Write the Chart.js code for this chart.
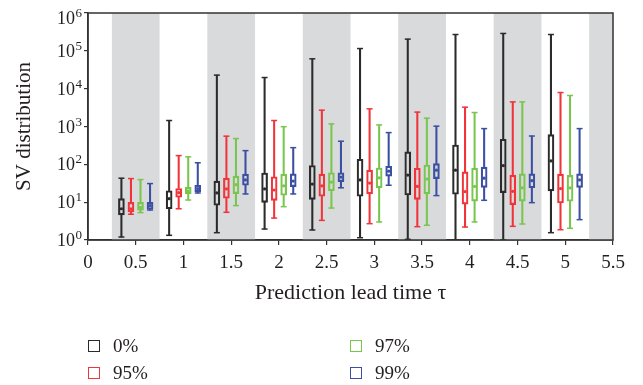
<!DOCTYPE html>
<html>
<head>
<meta charset="utf-8">
<script src="https://cdn.jsdelivr.net/npm/chart.js@4.4.1/dist/chart.umd.min.js"></script>
<style>
  body { margin: 0; background: #fff; }
  #wrap { position: relative; width: 643px; height: 385px; }
  .leg { position: absolute; display: flex; align-items: center; height: 14px;
         font: 19px "Liberation Serif", serif; color: #231f20; }
  .leg span.sq { width: 12px; height: 12px; box-sizing: border-box; border: 1.6px solid; margin-right: 13px; }
</style>
</head>
<body>
<div id="wrap">
  <canvas id="chart" width="643" height="385"></canvas>
</div>
<script>
// prediction lead time (group centres) and series names
const tau = [0.5, 1, 1.5, 2, 2.5, 3, 3.5, 4, 4.5, 5];
const seriesNames = ['0%', '95%', '97%', '99%'];
const seriesColors = ['#2b2b2b', '#f0343a', '#79c64e', '#3b4fa3'];
const offsets = [-0.15, -0.05, 0.05, 0.15];
const bands = [[0.25, 0.75], [1.25, 1.75], [2.25, 2.75], [3.25, 3.75], [4.25, 4.75], [5.25, 5.5]];
const yTicks = [1, 10, 100, 1000, 10000, 100000, 1000000];

// each box: [min, q1, median, q3, max]
const sv0 = [
  [1.2, 4.6, 6.7, 12.4, 43],
  [1.33, 6.7, 12.4, 20, 1440],
  [1.56, 8.3, 17.5, 36, 22800],
  [1.95, 9.9, 22.4, 59, 19700],
  [1.84, 11.9, 30, 93, 61500],
  [1.15, 14.3, 38.6, 136, 115000],
  [1.04, 15.5, 52, 213, 204000],
  [1.0, 16.2, 70, 325, 270000],
  [1.0, 17.8, 93, 460, 288000],
  [1.56, 19.8, 123, 610, 270000]
];
const sv95 = [
  [4.8, 5.5, 6.7, 9.9, 42],
  [6.7, 13.5, 17.8, 23, 170],
  [5.4, 12.7, 22.4, 43, 555],
  [3.8, 11.2, 21, 47, 1440],
  [3.3, 14.3, 27, 55, 2700],
  [2.7, 16.5, 32, 70, 2930],
  [2.25, 11.9, 26, 79, 2400],
  [2.2, 8.9, 19, 63, 3240],
  [2.3, 8.6, 19.4, 52, 4470],
  [1.87, 9.5, 22.8, 55, 7900]
];
const sv97 = [
  [5.3, 6.1, 7.3, 9.9, 39.5],
  [11.4, 16.5, 20, 25, 158],
  [8.1, 16.8, 29, 49, 480],
  [7.6, 15.2, 27, 55, 990],
  [7.0, 20, 34, 60, 1170],
  [3.0, 24, 44, 80, 1100],
  [2.45, 16.5, 41, 96, 1660],
  [3.0, 10.7, 26, 79, 2340],
  [2.65, 10.7, 24, 56, 4470],
  [2.04, 10.6, 23.8, 51, 6600]
];
const sv99 = [
  [6.2, 6.5, 8.1, 9.9, 31],
  [17.5, 19, 23, 28, 110],
  [16.5, 28, 38.6, 55, 230],
  [16.5, 25.7, 36, 56, 276],
  [24, 35, 46, 60, 408],
  [28, 49, 66, 89, 690],
  [14.9, 42, 70, 104, 1020],
  [11.2, 24.7, 43, 84, 880],
  [9.7, 24, 37, 56, 560],
  [3.45, 24.7, 38.6, 56, 880]
];
const allSeries = [sv0, sv95, sv97, sv99];

const FONT = '"Liberation Serif", serif';
const TEXT = '#231f20';

const datasets = [];
allSeries.forEach((s, k) => {
  const col = seriesColors[k];
  const xs = tau.map(t => t + offsets[k]);
  // lower and upper whiskers
  datasets.push({
    type: 'bar', grouped: false, barThickness: 1.4, borderWidth: 0, backgroundColor: col,
    data: s.map((b, i) => ({x: xs[i], y: [b[0], b[1]]}))
  });
  datasets.push({
    type: 'bar', grouped: false, barThickness: 1.4, borderWidth: 0, backgroundColor: col,
    data: s.map((b, i) => ({x: xs[i], y: [b[3], b[4]]}))
  });
  // box
  datasets.push({
    type: 'bar', grouped: false, barThickness: 6, borderWidth: 1.5, borderSkipped: false,
    borderColor: col, backgroundColor: 'rgba(0,0,0,0)',
    data: s.map((b, i) => ({x: xs[i], y: [b[1], b[3]]}))
  });
  // whisker caps
  datasets.push({
    type: 'line', showLine: false, pointStyle: 'line', pointRadius: 3, borderWidth: 1.5,
    borderColor: col,
    data: s.flatMap((b, i) => [{x: xs[i], y: b[0]}, {x: xs[i], y: b[4]}])
  });
  // median dot
  datasets.push({
    type: 'line', showLine: false, pointStyle: 'circle', pointRadius: 1.6, borderWidth: 0,
    backgroundColor: col,
    data: s.map((b, i) => ({x: xs[i], y: b[2]}))
  });
});

const bandPlugin = {
  id: 'bands',
  beforeDatasetsDraw(chart) {
    const {ctx, chartArea: a, scales: {x}} = chart;
    ctx.save();
    ctx.fillStyle = '#d9dadc';
    bands.forEach(b => {
      const x0 = x.getPixelForValue(b[0]), x1 = x.getPixelForValue(b[1]);
      ctx.fillRect(x0, a.top, x1 - x0, a.bottom - a.top);
    });
    ctx.restore();
  },
  afterDraw(chart) {
    const {ctx, chartArea: a, scales: {y}} = chart;
    ctx.save();
    ctx.strokeStyle = '#333';
    ctx.lineWidth = 1.5;
    ctx.strokeRect(a.left, a.top, a.right - a.left, a.bottom - a.top);
    // y tick labels as 10 with a raised exponent
    ctx.fillStyle = TEXT;
    ctx.textBaseline = 'alphabetic';
    const right = a.left - 6;
    yTicks.forEach((v, i) => {
      const e = String(Math.round(Math.log10(v)));
      let py = y.getPixelForValue(v);
      if (i === yTicks.length - 1) py += 5;
      ctx.font = '13px ' + FONT;
      const ew = ctx.measureText(e).width;
      ctx.textAlign = 'left';
      ctx.fillText(e, right - ew, py - 1);
      ctx.font = '18px ' + FONT;
      ctx.textAlign = 'right';
      ctx.fillText('10', right - ew - 0.5, py + 6);
    });
    ctx.restore();
  }
};

new Chart(document.getElementById('chart'), {
  type: 'bar',
  data: { datasets: datasets },
  options: {
    responsive: false,
    animation: false,
    events: [],
    layout: { padding: { left: 12, top: 13, right: 30, bottom: 79 } },
    plugins: { legend: { display: false }, tooltip: { enabled: false } },
    scales: {
      x: {
        type: 'linear', min: 0, max: 5.5, offset: false,
        afterFit: s => { s.height = 66; },
        ticks: { stepSize: 0.5, padding: 7, color: TEXT, font: { family: FONT, size: 19 },
                 callback: v => String(v) },
        grid: { drawOnChartArea: false, offset: false, tickLength: 5, color: '#333', lineWidth: 1.2 },
        border: { color: '#333', width: 1.5 },
        title: { display: true, text: 'Prediction lead time τ', color: TEXT, padding: 0,
                 font: { family: FONT, size: 22 } }
      },
      y: {
        type: 'logarithmic', min: 1, max: 1000000,
        afterFit: s => { s.width = 76; },
        afterBuildTicks: s => { s.ticks = yTicks.map(v => ({value: v})); },
        ticks: { display: false },
        grid: { drawOnChartArea: false, tickLength: 4, color: '#333', lineWidth: 1.2 },
        border: { color: '#333', width: 1.5 },
        title: { display: true, text: 'SV distribution', color: TEXT, padding: 0,
                 font: { family: FONT, size: 21 } }
      }
    }
  },
  plugins: [bandPlugin]
});

// legend, two columns like the figure
const legPos = [[88, 339], [88, 366], [350, 339], [350, 366]];
seriesNames.forEach((n, k) => {
  const d = document.createElement('div');
  d.className = 'leg';
  d.style.left = legPos[k][0] + 'px';
  d.style.top = legPos[k][1] + 'px';
  d.innerHTML = '<span class="sq" style="border-color:' + seriesColors[k] + '"></span>' + n;
  document.getElementById('wrap').appendChild(d);
});
</script>
</body>
</html>
